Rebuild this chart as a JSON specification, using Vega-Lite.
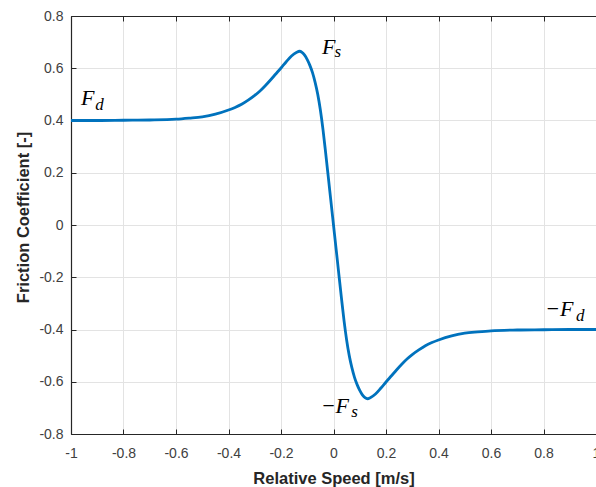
{
  "$schema": "https://vega.github.io/schema/vega-lite/v6.json",
  "autosize": {"type": "none"},
  "padding": {"left": 71, "top": 16, "right": 0, "bottom": 53},
  "width": 525,
  "height": 418,
  "background": "white",
  "config": {
    "view": {"stroke": "#262626", "strokeWidth": 1},
    "axis": {
      "labelFont": "Liberation Sans",
      "titleFont": "Liberation Sans",
      "labelFontSize": 14,
      "labelColor": "#404040",
      "titleColor": "#262626",
      "titleFontWeight": "bold",
      "titleFontSize": 16.5,
      "domainColor": "#262626",
      "domainWidth": 1.2,
      "tickColor": "#262626",
      "tickSize": -5,
      "tickWidth": 1,
      "gridColor": "#e3e3e3",
      "gridWidth": 1,
      "gridOpacity": 1
    }
  },
  "datasets": {
    "curve": [
      {"v": -1.0, "f": 0.400}, {"v": -0.9, "f": 0.400}, {"v": -0.8, "f": 0.401},
      {"v": -0.7, "f": 0.402}, {"v": -0.6, "f": 0.405}, {"v": -0.55, "f": 0.409},
      {"v": -0.5, "f": 0.414}, {"v": -0.45, "f": 0.424}, {"v": -0.4, "f": 0.440},
      {"v": -0.375, "f": 0.450}, {"v": -0.35, "f": 0.462}, {"v": -0.325, "f": 0.478},
      {"v": -0.3, "f": 0.496}, {"v": -0.28, "f": 0.513}, {"v": -0.26, "f": 0.533},
      {"v": -0.24, "f": 0.555}, {"v": -0.22, "f": 0.578}, {"v": -0.2, "f": 0.601},
      {"v": -0.18, "f": 0.625}, {"v": -0.16, "f": 0.647}, {"v": -0.14, "f": 0.661},
      {"v": -0.13, "f": 0.665},
      {"v": -0.12, "f": 0.661}, {"v": -0.11, "f": 0.650}, {"v": -0.1, "f": 0.633},
      {"v": -0.09, "f": 0.611}, {"v": -0.08, "f": 0.583}, {"v": -0.07, "f": 0.546},
      {"v": -0.06, "f": 0.500}, {"v": -0.05, "f": 0.440}, {"v": -0.04, "f": 0.365},
      {"v": -0.03, "f": 0.277}, {"v": -0.02, "f": 0.185}, {"v": -0.01, "f": 0.092},
      {"v": 0.0, "f": 0.0},
      {"v": 0.01, "f": -0.092}, {"v": 0.02, "f": -0.185}, {"v": 0.03, "f": -0.277},
      {"v": 0.04, "f": -0.365}, {"v": 0.05, "f": -0.440}, {"v": 0.06, "f": -0.500},
      {"v": 0.07, "f": -0.546}, {"v": 0.08, "f": -0.583}, {"v": 0.09, "f": -0.611},
      {"v": 0.1, "f": -0.633}, {"v": 0.11, "f": -0.650}, {"v": 0.12, "f": -0.661},
      {"v": 0.13, "f": -0.665}, {"v": 0.14, "f": -0.661}, {"v": 0.16, "f": -0.647},
      {"v": 0.18, "f": -0.625}, {"v": 0.2, "f": -0.601}, {"v": 0.22, "f": -0.578},
      {"v": 0.24, "f": -0.555}, {"v": 0.26, "f": -0.533}, {"v": 0.28, "f": -0.513},
      {"v": 0.3, "f": -0.496}, {"v": 0.325, "f": -0.478}, {"v": 0.35, "f": -0.462},
      {"v": 0.375, "f": -0.450}, {"v": 0.4, "f": -0.440}, {"v": 0.45, "f": -0.424},
      {"v": 0.5, "f": -0.414}, {"v": 0.55, "f": -0.409}, {"v": 0.6, "f": -0.405},
      {"v": 0.7, "f": -0.402}, {"v": 0.8, "f": -0.401}, {"v": 0.9, "f": -0.400},
      {"v": 1.0, "f": -0.400}
    ],
    "mainLabels": [
      {"label": "F", "v": -0.962, "f": 0.458},
      {"label": "F", "v": -0.044, "f": 0.656},
      {"label": "−F", "v": -0.049, "f": -0.721},
      {"label": "−F", "v": 0.806, "f": -0.347}
    ],
    "subLabels": [
      {"label": "d", "v": -0.908, "f": 0.439},
      {"label": "s", "v": 0.004, "f": 0.643},
      {"label": "s", "v": 0.068, "f": -0.736},
      {"label": "d", "v": 0.924, "f": -0.366}
    ]
  },
  "layer": [
    {
      "data": {"name": "curve"},
      "mark": {"type": "line", "color": "#0072BD", "strokeWidth": 2.8, "interpolate": "monotone"},
      "encoding": {
        "x": {
          "field": "v", "type": "quantitative",
          "scale": {"domain": [-1, 1], "nice": false, "zero": false},
          "axis": {
            "orient": "bottom",
            "title": "Relative Speed [m/s]",
            "values": [-1, -0.8, -0.6, -0.4, -0.2, 0, 0.2, 0.4, 0.6, 0.8, 1],
            "labelExpr": "toString(round(datum.value * 10) / 10)",
            "labelPadding": 17,
            "labelFlush": false,
            "labelOverlap": false,
            "titleBaseline": "alphabetic",
            "titleY": 49
          }
        },
        "y": {
          "field": "f", "type": "quantitative",
          "scale": {"domain": [-0.8, 0.8], "nice": false, "zero": false},
          "axis": {
            "title": "Friction Coefficient [-]",
            "values": [-0.8, -0.6, -0.4, -0.2, 0, 0.2, 0.4, 0.6, 0.8],
            "labelExpr": "toString(round(datum.value * 10) / 10)",
            "labelPadding": 13,
            "labelFlush": false,
            "labelOverlap": false,
            "titleBaseline": "alphabetic",
            "titleAlign": "center",
            "titleX": -43,
            "titleY": 201
          }
        }
      }
    },
    {
      "data": {"name": "mainLabels"},
      "mark": {"type": "text", "font": "Liberation Serif", "fontStyle": "italic", "fontSize": 22, "align": "left", "baseline": "alphabetic", "color": "black"},
      "encoding": {
        "x": {
          "field": "v", "type": "quantitative",
          "scale": {"domain": [-1, 1], "nice": false, "zero": false},
          "axis": {
            "orient": "top", "title": null, "labels": false, "grid": false,
            "values": [-1, -0.8, -0.6, -0.4, -0.2, 0, 0.2, 0.4, 0.6, 0.8, 1]
          }
        },
        "y": {
          "field": "f", "type": "quantitative",
          "scale": {"domain": [-0.8, 0.8], "nice": false, "zero": false},
          "axis": null
        },
        "text": {"field": "label"}
      }
    },
    {
      "data": {"name": "subLabels"},
      "mark": {"type": "text", "font": "Liberation Serif", "fontStyle": "italic", "fontSize": 17, "align": "left", "baseline": "alphabetic", "color": "black"},
      "encoding": {
        "x": {
          "field": "v", "type": "quantitative",
          "scale": {"domain": [-1, 1], "nice": false, "zero": false},
          "axis": null
        },
        "y": {
          "field": "f", "type": "quantitative",
          "scale": {"domain": [-0.8, 0.8], "nice": false, "zero": false},
          "axis": null
        },
        "text": {"field": "label"}
      }
    }
  ],
  "resolve": {"axis": {"x": "independent", "y": "independent"}}
}
